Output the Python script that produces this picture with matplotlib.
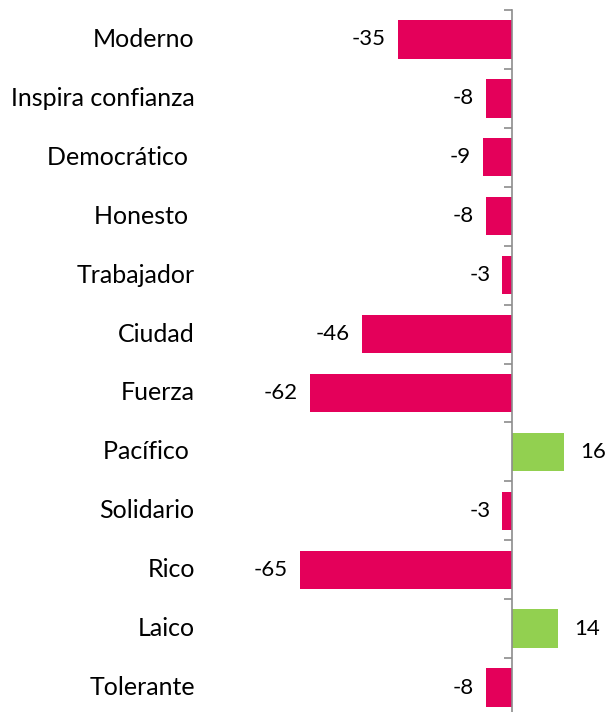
import matplotlib.pyplot as plt
import numpy as np

categorias = ["Moderno", "Inspira confianza", "Democrático ", "Honesto ", "Trabajador",
              "Ciudad", "Fuerza", "Pacífico ", "Solidario", "Rico", "Laico", "Tolerante"]
valores = [-35, -8, -9, -8, -3, -46, -62, 16, -3, -65, 14, -8]

rojo = "#E4005A"
verde = "#92D050"

plt.rcParams["font.family"] = ["Lato", "DejaVu Sans"]

fig = plt.figure(figsize=(6.07, 7.12), dpi=100)
ax = fig.add_axes([230 / 607, -5 / 712, 370 / 607, 707 / 712])

y = np.arange(len(categorias))
colores = [verde if v > 0 else rojo for v in valores]
ax.barh(y, valores, height=0.65, color=colores)

ax.set_xlim(-86.4, 27)
ax.set_ylim(len(categorias) - 0.5, -0.5)

for i, v in enumerate(valores):
    if v < 0:
        ax.text(v - 3.6, i, str(v), ha="right", va="center", fontsize=16)
    else:
        ax.text(v + 5, i, str(v), ha="left", va="center", fontsize=16)
    ax.text(-86.4 - 10.8, i, categorias[i], ha="right", va="center", fontsize=18)

for s in ["top", "right", "bottom"]:
    ax.spines[s].set_visible(False)
ax.spines["left"].set_position(("data", 0))
ax.spines["left"].set_color("#8c8c8c")
ax.spines["left"].set_linewidth(1.2)
ax.set_xticks([])
ax.set_yticks(np.arange(len(categorias) + 1) - 0.5)
ax.set_yticklabels([])
ax.tick_params(axis="y", direction="out", length=6, width=1.2, color="#8c8c8c")
ax.patch.set_visible(False)

fig.savefig("out.png", dpi=100)
